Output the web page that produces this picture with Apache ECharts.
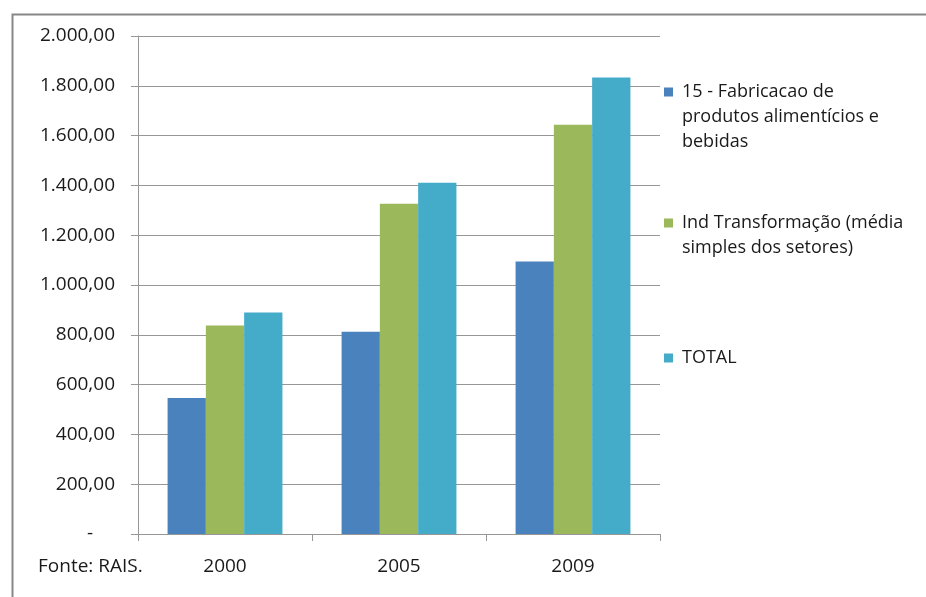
<!DOCTYPE html>
<html>
<head>
<meta charset="utf-8">
<script src="https://cdn.jsdelivr.net/npm/echarts@6/dist/echarts.min.js"></script>
<style>html,body{margin:0;padding:0;background:#fff;}#c{width:926px;height:597px;}</style>
</head>
<body>
<div id="c"></div>
<script>
const categories = ['2000', '2005', '2009'];
const seriesNames = [
  '15 - Fabricacao de produtos alimentícios e bebidas',
  'Ind Transformação (média simples dos setores)',
  'TOTAL'
];
const fabricacao = [546, 812, 1094];
const indTransformacao = [837, 1326, 1644];
const total = [890, 1411, 1833];
const yTicks = { min: 0, max: 2000, interval: 200 };
const legendLines = [
  ['15 - Fabricacao de', 'produtos alimentícios e', 'bebidas'],
  ['Ind Transformação (média', 'simples dos setores)'],
  ['TOTAL']
];
const sourceNote = 'Fonte: RAIS.';

const FONT = 'Open Sans';
const TXT = '#1a1a1a';
const GRID = '#979797';
const colors = ['#4a82bd', '#9bb85a', '#44abc8'];

function fmt(v) {
  if (v === 0) return '{z|-}';
  const s = v.toFixed(2).split('.');
  const int = s[0].replace(/\B(?=(\d{3})+(?!\d))/g, '.');
  return int + ',' + s[1];
}

const LH = 25;
const legendTops = [92, 223, 358];
const legends = seriesNames.map((name, i) => {
  const lines = legendLines[i];
  const pad = lines.length - 1;
  const total = lines.length + pad;
  return {
    show: true,
    orient: 'vertical',
    left: 664,
    top: legendTops[i] - (total * LH) / 2,
    padding: 0,
    itemWidth: 9,
    itemHeight: 9,
    icon: 'rect',
    selectedMode: false,
    data: [name],
    formatter: () => '\n'.repeat(pad) + lines.join('\n'),
    textStyle: { fontFamily: FONT, fontSize: 18, color: TXT, lineHeight: LH, padding: [0, 0, 0, 4] }
  };
});

const chart = echarts.init(document.getElementById('c'));
chart.setOption({
  animation: false,
  backgroundColor: '#fff',
  color: colors,
  grid: { left: 138, top: 36, right: 266, bottom: 63, containLabel: false },
  legend: legends,
  xAxis: {
    type: 'category',
    data: categories,
    axisLine: { lineStyle: { color: GRID, width: 1 } },
    axisTick: { show: true, length: 7, lineStyle: { color: GRID } },
    axisLabel: { fontFamily: FONT, fontSize: 19, color: TXT, margin: 23 }
  },
  yAxis: {
    type: 'value',
    min: yTicks.min, max: yTicks.max, interval: yTicks.interval,
    axisLine: { show: true, lineStyle: { color: GRID, width: 1 } },
    axisTick: { show: true, length: 7, lineStyle: { color: GRID } },
    splitLine: { lineStyle: { color: GRID, width: 1 } },
    axisLabel: {
      fontFamily: FONT, fontSize: 19, color: TXT, margin: 23,
      formatter: fmt,
      rich: { z: { fontFamily: FONT, fontSize: 19, color: TXT, padding: [0, 22, 0, 0] } }
    }
  },
  series: [
    { name: seriesNames[0], type: 'bar', data: fabricacao, barGap: '0%', barCategoryGap: '34%' },
    { name: seriesNames[1], type: 'bar', data: indTransformacao, barGap: '0%', barCategoryGap: '34%' },
    { name: seriesNames[2], type: 'bar', data: total, barGap: '0%', barCategoryGap: '34%' }
  ],
  graphic: [
    { type: 'rect', left: 10, top: 12, shape: { width: 930, height: 600 }, style: { fill: 'none', stroke: '#878787', lineWidth: 2 }, z: 100, silent: true },
    { type: 'text', left: 38, top: 557, style: { text: sourceNote, fontFamily: FONT, fontSize: 19, fill: TXT } }
  ]
});
</script>
</body>
</html>
